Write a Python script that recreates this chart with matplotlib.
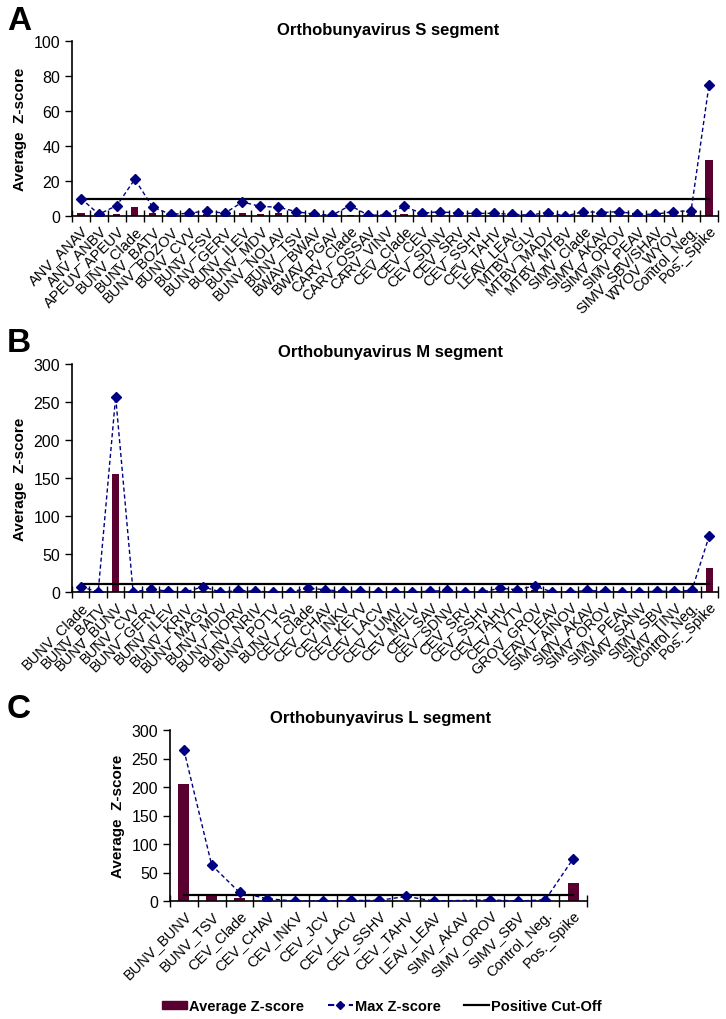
import matplotlib
matplotlib.use("Agg")
import matplotlib.pyplot as plt
import numpy as np
from matplotlib.patches import Patch
from matplotlib.lines import Line2D

# --- panel A: S segment ---
labels_s = ["ANV_ANAV", "ANV_ANBV", "APEUV_APEUV", "BUNV_Clade", "BUNV_BATV", "BUNV_BOZOV",
            "BUNV_CVV", "BUNV_FSV", "BUNV_GERV", "BUNV_ILEV", "BUNV_MDV", "BUNV_NOLAV",
            "BUNV_TSV", "BWAV_BWAV", "BWAV_PGAV", "CARV_Clade", "CARV_OSSAV", "CARV_VINV",
            "CEV_Clade", "CEV_CEV", "CEV_SDNV", "CEV_SRV", "CEV_SSHV", "CEV_TAHV",
            "LEAV_LEAV", "MTBV_GLV", "MTBV_MADV", "MTBV_MTBV", "SIMV_Clade", "SIMV_AKAV",
            "SIMV_OROV", "SIMV_PEAV", "SIMV_SBV/SHAV", "WYOV_WYOV", "Control_Neg.", "Pos._Spike"]
avg_s = [1.5, 0.3, 1.0, 5.0, 1.5, 0.3, 0.5, 1.0, 0.5, 2.0, 1.0, 2.0, 0.5, 0.3, 0.2, 0.8,
         0.2, 0.2, 1.0, 0.5, 0.8, 0.5, 0.5, 0.5, 0.3, 0.2, 0.6, 0.1, 0.8, 0.6, 0.8, 0.3,
         0.3, 0.8, 1.0, 32.0]
max_s = [10, 1, 6, 21, 5, 1, 1.5, 3, 1.5, 8, 5.5, 5, 2.5, 1, 0.5, 6, 0.5, 0.5, 5.5, 1.5,
         2.5, 1.5, 1.5, 1.5, 1, 0.5, 2, 0, 2.5, 2, 2.5, 1, 1, 2.5, 3, 75]

# --- panel B: M segment ---
labels_m = ["BUNV_Clade", "BUNV_BATV", "BUNV_BUNV", "BUNV_CVV", "BUNV_GERV", "BUNV_ILEV",
            "BUNV_KRIV", "BUNV_MAGV", "BUNV_MDV", "BUNV_NORV", "BUNV_NRIV", "BUNV_POTV",
            "BUNV_TSV", "CEV_Clade", "CEV_CHAV", "CEV_INKV", "CEV_KEYV", "CEV_LACV",
            "CEV_LUMV", "CEV_MELV", "CEV_SAV", "CEV_SDNV", "CEV_SRV", "CEV_SSHV",
            "CEV_TAHV", "CEV_TVTV", "GROV_GROV", "LEAV_LEAV", "SIMV_AINOV", "SIMV_AKAV",
            "SIMV_OROV", "SIMV_PEAV", "SIMV_SANV", "SIMV_SBV", "SIMV_TINV", "Control_Neg.",
            "Pos._Spike"]
avg_m = [1, 0, 155, 0, 1, 0, 0, 1, 0, 0, 0, 0, 0, 1, 1, 0, 0, 0, 0, 0, 0, 1, 0, 0, 1, 1,
         2, 0, 0, 1, 0, 0, 0, 0, 0, 1, 31]
max_m = [7, 0, 257, 0, 4, 1, 0, 7, 0, 2, 1, 0, 0, 5, 3, 1, 1, 0, 0, 0, 1, 2, 0, 0, 5, 3,
         8, 0, 0, 2, 1, 0, 0, 1, 1, 2, 74]

# --- panel C: L segment ---
labels_l = ["BUNV_BUNV", "BUNV_TSV", "CEV_Clade", "CEV_CHAV", "CEV_INKV", "CEV_JCV",
            "CEV_LACV", "CEV_SSHV", "CEV_TAHV", "LEAV_LEAV", "SIMV_AKAV", "SIMV_OROV",
            "SIMV_SBV", "Control_Neg.", "Pos._Spike"]
avg_l = [205, 10, 5, 0.5, 0, 0, 0, 0, 0.5, 0, 0, 0, 0, 0, 31]
max_l = [265, 63, 15, 4, 0, 0, 1, 1, 8, 0, np.nan, 2, 0, 2, 74]

cutoff = 10

BAR = "#5a0030"
MARK = "#000080"

W, H = 726, 1020
fig = plt.figure(figsize=(W / 100, H / 100), dpi=100)
plt.rcParams["font.family"] = ["Liberation Sans", "DejaVu Sans"]


def px_axes(left, right, top, bottom):
    return fig.add_axes([left / W, 1 - bottom / H, (right - left) / W, (bottom - top) / H])


def draw(ax, labels, avg, mx, ymax, ystep):
    n = len(labels)
    x = np.arange(n)
    mx = np.array(mx, dtype=float)
    ax.bar(x, avg, width=0.4, color=BAR, zorder=2)
    ok = ~np.isnan(mx)
    ax.plot(x[ok], mx[ok], linestyle=(0, (3, 2)), color=MARK, linewidth=1.0, zorder=3)
    ax.plot(x[ok], mx[ok], linestyle="none", marker="D", markersize=5, color=MARK, zorder=4)
    ax.plot([0, n - 1], [cutoff, cutoff], color="black", linewidth=1.6, zorder=3)
    ax.set_xlim(-0.5, n - 0.5)
    ax.set_ylim(0, ymax)
    ax.set_yticks(np.arange(0, ymax + 1, ystep))
    ax.set_xticks(x)
    ax.set_xticklabels(labels, rotation=45, ha="right", rotation_mode="anchor", fontsize=10.5)
    ax.tick_params(axis="x", length=0, pad=5)
    ax.set_xticks(np.arange(n + 1) - 0.5, minor=True)
    ax.tick_params(axis="x", which="minor", direction="inout", length=8, width=1)
    ax.tick_params(axis="y", direction="out", length=5, width=1, labelsize=11.5)
    for s in ["top", "right"]:
        ax.spines[s].set_visible(False)
    for s in ["left", "bottom"]:
        ax.spines[s].set_linewidth(1.2)
    ax.set_ylabel("Average  Z-score", fontsize=11, fontweight="bold", labelpad=5)
    return ax


axA = px_axes(72, 718, 42, 217)
draw(axA, labels_s, avg_s, max_s, 100, 20)
axB = px_axes(72, 718, 365, 593)
draw(axB, labels_m, avg_m, max_m, 300, 50)
axC = px_axes(170, 587, 731, 902)
draw(axC, labels_l, avg_l, max_l, 300, 50)

titles = [("Orthobunyavirus S segment", 388, 30),
          ("Orthobunyavirus M segment", 390, 352),
          ("Orthobunyavirus L segment", 381, 718)]
for t, tx, ty in titles:
    fig.text(tx / W, 1 - ty / H, t, ha="center", va="center", fontsize=12, fontweight="bold")
for lt, yy in [("A", 22), ("B", 344), ("C", 710)]:
    fig.text(7 / W, 1 - yy / H, lt, ha="left", va="center", fontsize=24, fontweight="bold")

handles = [Patch(facecolor=BAR, edgecolor=BAR),
           Line2D([], [], linestyle=(0, (3, 2)), color=MARK, marker="D", markersize=4),
           Line2D([], [], color="black", linewidth=1.6)]
fig.legend(handles, ["Average Z-score", "Max Z-score", "Positive Cut-Off"],
           loc="center", bbox_to_anchor=(382 / W, 1 - 1007 / H), ncol=3, frameon=False,
           prop={"weight": "bold", "size": 10.5}, handlelength=1.7, handleheight=0.5,
           handletextpad=0.15, columnspacing=1.6)

fig.savefig("out.png", dpi=100)
